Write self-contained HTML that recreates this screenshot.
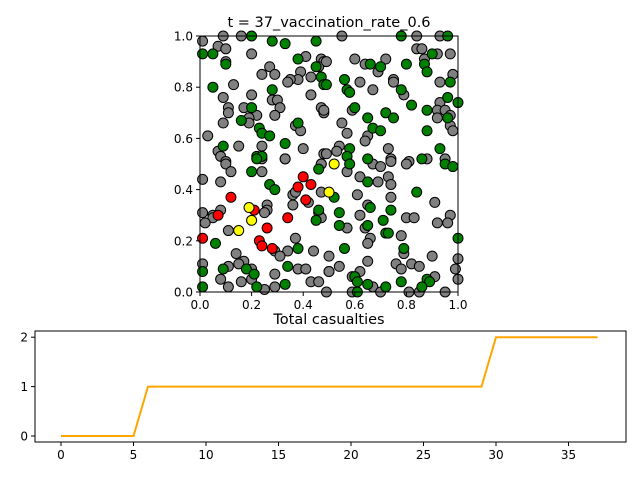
<!DOCTYPE html>
<html><head><meta charset="utf-8"><style>
body{margin:0;background:#fff;}
svg{display:block;font-family:"DejaVu Sans","Liberation Sans",sans-serif;}
</style></head><body>
<svg id="fig" width="640" height="480" viewBox="0 0 640 480" xmlns="http://www.w3.org/2000/svg">
<rect width="640" height="480" fill="#fff"/>
<g id="scatter"></g>
<g id="line"></g>
</svg>
<script>
const grayX=[.01,.09,.16,.07,.10,.20,.10,.41,.47,.48,.46,.27,.39,.24,.29,.43,.38,.35,.34,.13,.09,.20,.28,.30,.43,.11,.11,.17,.31,.22,.29,.47,.48,.19,.19,.09,.37,.39,.03,.15,.24,.40,.07,.08,.33,.10,.48,.47,
.55,.84,.93,.84,.86,.92,.97,.60,.72,.87,.64,.69,.98,.49,.62,.75,.75,.93,.67,.79,.93,.59,.92,.95,.48,.92,.97,.55,.97,.98,.57,.65,.64,.73,.54,.53,.49,.74,.81,.88,.95,
.10,.24,.33,.47,.12,.24,.01,.08,.36,.47,.37,.42,.36,.26,.26,.08,.05,.01,.05,.02,.25,.46,.47,.11,.37,.29,.34,.44,.31,.14,.17,.15,.01,.11,.20,.29,.38,.41,.08,.20,.16,.43,.46,.11,.25,.29,.50,.49,
.67,.70,.74,.80,.57,.62,.69,.73,.74,.61,.74,.65,.91,.62,.80,.83,.97,.92,.96,.57,.64,.78,.66,.65,.79,.50,.90,1.0,.65,.54,.76,.78,.82,.85,.50,.62,.99,.59,.91,1.0,.67,.70,.85,.59,.81,.95];
const grayY=[.98,1.0,1.0,.96,.95,.93,.90,.92,.91,.90,.88,.88,.86,.85,.85,.84,.83,.83,.82,.81,.76,.77,.75,.75,.77,.72,.70,.72,.72,.69,.69,.72,.70,.68,.66,.66,.65,.63,.61,.57,.57,.56,.55,.53,.52,.51,.54,.50,
1.0,1.0,1.0,.95,.95,.93,.93,.91,.91,.91,.89,.86,.85,.90,.82,.83,.82,.82,.79,.77,.74,.71,.71,.71,.71,.68,.69,.66,.65,.63,.62,.61,.59,.56,.57,.55,.54,.52,.51,.52,.52,
.50,.52,.52,.50,.47,.47,.44,.43,.38,.39,.39,.35,.34,.34,.32,.32,.30,.31,.29,.27,.31,.31,.29,.24,.21,.16,.16,.16,.14,.15,.12,.11,.11,.10,.09,.07,.09,.09,.05,.05,.04,.04,.04,.02,.01,.02,.08,0,
.50,.49,.51,.50,.47,.45,.43,.45,.42,.38,.37,.34,.35,.30,.29,.29,.30,.27,.27,.25,.25,.22,.21,.19,.15,.14,.14,.13,.12,.10,.11,.09,.11,.10,.08,.08,.09,.06,.06,.05,.02,0,0,0,0,0];
const greenX=[.20,.28,.33,.45,.01,.05,.10,.38,.45,.47,.48,.05,.28,.20,.16,.38,.23,.24,.27,.33,.09,.22,.24,
.78,.96,.90,.87,.66,.70,.80,.88,.56,.97,.49,.57,.58,.78,.82,.96,1.0,.60,.88,.72,.75,.65,.96,.67,.70,.88,.93,.58,.57,.86,.65,
.22,.46,.20,.27,.29,.46,.45,.06,.38,.09,.18,.21,.34,.22,.33,.01,.01,
.58,.95,.98,.65,.52,.84,.66,.54,.74,.71,.54,.65,.72,.73,1.0,.79,.56,.60,.61,.88,.89,.78,.65,.72,.86,.61];
const greenY=[1.0,.98,.97,.98,.93,.93,.89,.91,.88,.84,.81,.80,.79,.72,.67,.66,.64,.62,.61,.58,.57,.53,.53,
1.0,1.0,.93,.89,.89,.88,.89,.86,.83,.82,.81,.79,.78,.79,.73,.76,.74,.72,.71,.70,.68,.68,.68,.64,.63,.63,.56,.56,.53,.52,.52,
.52,.48,.47,.42,.40,.32,.28,.19,.17,.09,.09,.07,.10,.02,.03,.08,.02,
.50,.50,.49,.43,.37,.39,.33,.31,.32,.28,.26,.26,.23,.23,.21,.17,.17,.06,.04,.05,.04,.04,.03,.02,.02,0];
const redX=[.40,.38,.43,.12,.41,.21,.07,.34,.26,.01,.23,.24,.28];
const redY=[.45,.41,.42,.37,.36,.32,.30,.29,.25,.21,.20,.18,.17];
const yellowX=[.50,.19,.20,.15,.52];
const yellowY=[.39,.33,.28,.24,.50];
const scatterTicks=["0.0","0.2","0.4","0.6","0.8","1.0"];
const tSteps=[0,1,2,3,4,5,6,7,8,9,10,11,12,13,14,15,16,17,18,19,20,21,22,23,24,25,26,27,28,29,30,31,32,33,34,35,36,37];
const casualties=[0,0,0,0,0,0,1,1,1,1,1,1,1,1,1,1,1,1,1,1,1,1,1,1,1,1,1,1,1,1,2,2,2,2,2,2,2,2];
const xTicks=[0,5,10,15,20,25,30,35];
const yTicks=[0,1,2];

const NS="http://www.w3.org/2000/svg";
function mk(p,tag,at){const e=document.createElementNS(NS,tag);for(const k in at)e.setAttribute(k,at[k]);p.appendChild(e);return e;}
// scatter
const S=document.getElementById('scatter');
const sx=v=>200+v*258, sy=v=>292-v*256;
const ttl=mk(S,'text',{x:329,y:27,'text-anchor':'middle','font-size':14.5});
ttl.textContent="t = 37_vaccination_rate_0.6";


function pts(xs,ys,col,name){for(let i=0;i<xs.length;i++){const c=mk(S,'circle',{cx:sx(xs[i]),cy:sy(ys[i]),r:5,fill:col,stroke:'#000','stroke-width':1});

}}
pts(grayX,grayY,'#808080','agent-susceptible');
pts(greenX,greenY,'#008000','agent-vaccinated');
pts(redX,redY,'#ff0000','agent-infected');
pts(yellowX,yellowY,'#ffff00','agent-recovered');
const fr=mk(S,'rect',{x:200,y:36,width:258,height:256,fill:'none',stroke:'#000','stroke-width':1});


scatterTicks.forEach(t=>{const v=parseFloat(t);
mk(S,'line',{x1:sx(v),x2:sx(v),y1:292,y2:296,stroke:'#000'});
const a=mk(S,'text',{x:sx(v),y:309,'text-anchor':'middle','font-size':12});a.textContent=t;


mk(S,'line',{x1:196,x2:200,y1:sy(v),y2:sy(v),stroke:'#000'});
const b=mk(S,'text',{x:193,y:sy(v)+4.5,'text-anchor':'end','font-size':12});b.textContent=t;

});
// line
const L=document.getElementById('line');
const lx=v=>61+v*14.5, ly=v=>436-v*49.4;
const t2=mk(L,'text',{x:329,y:324,'text-anchor':'middle','font-size':14.5});t2.textContent="Total casualties";


const fr2=mk(L,'rect',{x:35,y:331,width:591,height:111,fill:'none',stroke:'#000','stroke-width':1});


const pl=mk(L,'polyline',{points:tSteps.map((t,i)=>lx(t)+','+ly(casualties[i])).join(' '),fill:'none',stroke:'#ffa500','stroke-width':2});


xTicks.forEach(v=>{mk(L,'line',{x1:lx(v),x2:lx(v),y1:442,y2:446,stroke:'#000'});
const a=mk(L,'text',{x:lx(v),y:459,'text-anchor':'middle','font-size':12});a.textContent=v;

});
yTicks.forEach(v=>{mk(L,'line',{x1:31,x2:35,y1:ly(v),y2:ly(v),stroke:'#000'});
const a=mk(L,'text',{x:28,y:ly(v)+4.5,'text-anchor':'end','font-size':12});a.textContent=v;

});
</script>
</body></html>
